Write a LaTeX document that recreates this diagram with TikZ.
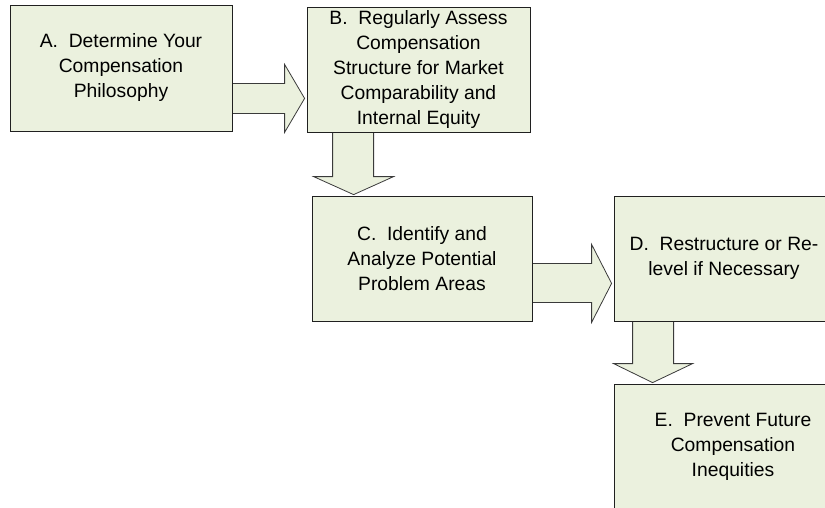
\documentclass[tikz,border=0pt]{standalone}
\usepackage{fontspec}
\setmainfont{Liberation Sans}
\usetikzlibrary{calc,backgrounds}
\definecolor{boxfill}{HTML}{EBF1DE}
\definecolor{boxline}{HTML}{202020}
\definecolor{arrline}{HTML}{3A3A3A}
\tikzset{
  stepbox/.style={draw=boxline, fill=boxfill, line width=0.8pt, rectangle,
    inner sep=0pt, align=center, anchor=center,
    font=\fontsize{19.3}{25}\selectfont},
  blockarrow/.style={draw=arrline, fill=boxfill, line width=0.8pt, line join=miter}
}
\begin{document}
\begin{tikzpicture}[x=1pt,y=-1pt]
\useasboundingbox (0,0) rectangle (825,507);
\clip (0,0) rectangle (825,507);
% boxes
\node[stepbox, minimum width=222pt, minimum height=126pt] (A) at (121,68)
  {A.\ \ Determine Your\\Compensation\\Philosophy};
\node[stepbox, minimum width=223pt, minimum height=125pt] (B) at (418.5,69.5)
  {B.\ \ Regularly Assess\\Compensation\\Structure for Market\\Comparability and\\Internal Equity};
\node[stepbox, minimum width=220pt, minimum height=125pt] (C) at (422,258.5)
  {C.\ \ Identify and\\Analyze Potential\\Problem Areas};
\node[stepbox, minimum width=220pt, minimum height=125pt] (D) at (724,258.5)
  {D.\ \ Restructure or Re-\\level if Necessary};
\node[stepbox, minimum width=238pt, minimum height=125pt] (E) at (733,446.5)
  {E.\ \ Prevent Future\\Compensation\\Inequities};
% block arrows, behind the boxes
\begin{scope}[on background layer]
\draw[blockarrow] let \p1=(A.south east), \p2=(B.west) in
  (\x1,\y1+48pt) -- (\x2-22pt,\y1+48pt) -- (\x2-22pt,\y1+67pt) -- (\x2-2pt,\y1+33pt)
  -- (\x2-22pt,\y1-1pt) -- (\x2-22pt,\y1+18pt) -- (\x1,\y1+18pt);
\draw[blockarrow] let \p1=(B.south west), \p2=(C.north) in
  (\x1+26pt,\y1) -- (\x1+26pt,\y2+19pt) -- (\x1+7pt,\y2+19pt) -- (\x1+47pt,\y2+1pt)
  -- (\x1+87pt,\y2+19pt) -- (\x1+67pt,\y2+19pt) -- (\x1+67pt,\y1);
\draw[blockarrow] let \p1=(C.south east), \p2=(D.west) in
  (\x1,\y1+58pt) -- (\x2-22pt,\y1+58pt) -- (\x2-22pt,\y1+77pt) -- (\x2-2pt,\y1+38pt)
  -- (\x2-22pt,\y1-1pt) -- (\x2-22pt,\y1+19pt) -- (\x1,\y1+19pt);
\draw[blockarrow] let \p1=(D.south west), \p2=(E.north) in
  (\x1+19pt,\y1) -- (\x1+19pt,\y2+20pt) -- (\x1+0pt,\y2+20pt) -- (\x1+39pt,\y2+1pt)
  -- (\x1+79pt,\y2+20pt) -- (\x1+60pt,\y2+20pt) -- (\x1+60pt,\y1);
\end{scope}
\end{tikzpicture}
\end{document}
